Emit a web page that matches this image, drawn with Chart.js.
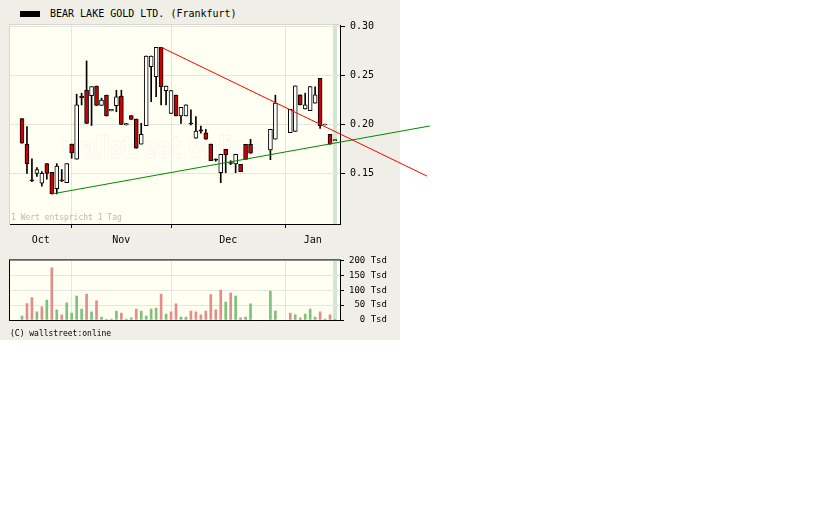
<!DOCTYPE html>
<html>
<head>
<meta charset="utf-8">
<title>BEAR LAKE GOLD LTD. (Frankfurt)</title>
<script src="https://cdn.jsdelivr.net/npm/chart.js@4.4.1/dist/chart.umd.min.js"></script>
<style>
  body { margin: 0; background: #fff; }
  #panel { position: absolute; left: 0; top: 0; width: 400px; height: 340px; background: #efefe7; }
  #key { position: absolute; left: 20px; top: 11px; width: 20px; height: 6px; background: #000; }
  #title { position: absolute; left: 50px; top: 8px; font: 10px "DejaVu Sans Mono", monospace; color: #000; white-space: pre; }
  #copy { position: absolute; left: 10px; top: 329px; font: 8px "DejaVu Sans Mono", monospace; color: #000; }
  #price { position: absolute; left: 0; top: 0; }
  #volume { position: absolute; left: 0; top: 250px; }
</style>
</head>
<body>
<div id="panel"></div>
<div id="key"></div>
<div id="title">BEAR LAKE GOLD LTD. (Frankfurt)</div>
<canvas id="price" width="440" height="250"></canvas>
<canvas id="volume" width="400" height="90"></canvas>
<div id="copy">(C) wallstreet:online</div>
<script>
// one slot per trading day, Oct -> Jan (null = no quote)
const opens  = [0.206,0.180,0.1435,0.150,0.140,0.160,0.151,0.1345,0.1435,0.1405,
                0.180,0.1645,0.229,0.235,0.2295,0.2393,0.2195,0.230,0.2140,0.2192,
                0.229,0.1995,0.209,0.2056,0.180,0.1988,0.259,0.2489,0.279,0.2346,
                0.2114,0.230,0.2087,0.2087,0.2015,0.1859,0.1945,0.1916,0.180,0.1645,
                0.1507,0.1747,0.1612,0.1596,0.1593,0.1798,0.1798,null,null,null,
                0.174,0.185,null,null,0.1916,0.193,0.2302,0.2158,0.2141,0.2217,
                0.2472,0.1995,0.190,0.1835];
const highs  = [0.206,0.198,0.165,0.156,0.152,0.160,0.151,0.160,0.154,0.160,
                0.180,0.231,0.232,0.265,0.2387,0.2393,0.227,0.230,0.2155,0.235,
                0.235,0.201,0.209,0.2056,0.2012,0.270,0.270,0.279,0.279,0.2393,
                0.2346,0.230,0.2176,0.220,0.215,0.208,0.1983,0.195,0.180,0.165,
                0.1696,0.1747,0.163,0.1696,0.1593,0.1798,0.1849,null,null,null,
                0.195,0.230,null,null,0.2155,0.2394,0.2302,0.232,0.2387,0.2384,
                0.2472,0.2005,0.190,0.1845];
const lows   = [0.181,0.150,0.1415,0.147,0.137,0.144,0.129,0.129,0.1415,0.1405,
                0.1655,0.1645,0.220,0.201,0.199,0.2195,0.2195,0.2087,0.2140,0.213,
                0.200,0.1995,0.2053,0.1757,0.180,0.1988,0.2233,0.2284,0.220,0.220,
                0.2114,0.2087,0.2012,0.2087,0.1995,0.1859,0.1911,0.1849,0.163,0.1625,
                0.1405,0.1507,0.159,0.1507,0.1517,0.1644,0.1706,null,null,null,
                0.164,0.185,null,null,0.1916,0.193,0.220,0.2158,0.2141,0.2217,
                0.196,0.1995,0.180,0.1835];
const closes = [0.181,0.160,0.1425,0.154,0.150,0.150,0.129,0.1575,0.1425,0.160,
                0.171,0.220,0.2275,0.201,0.2387,0.2195,0.225,0.2087,0.2155,0.2284,
                0.200,0.201,0.2053,0.1757,0.190,0.270,0.270,0.279,0.2387,0.2393,
                0.2346,0.2087,0.2176,0.220,0.2005,0.1933,0.1933,0.1849,0.163,0.1635,
                0.1696,0.1688,0.1602,0.1696,0.1517,0.1644,0.1706,null,null,null,
                0.195,0.222,null,null,0.2155,0.2394,0.220,0.220,0.2387,0.2302,
                0.1988,0.2005,0.180,0.1845];
// volume in Tsd, 1 = green bar, 0 = red bar
const volumes = [13,55,75,27,44,67,175,34,17,58,
                 23,80,37,87,27,64,10,2,3,30,
                 23,3,7,37,30,13,37,40,87,20,
                 27,54,10,10,30,27,17,30,85,34,
                 100,60,90,80,7,10,54,null,null,null,
                 97,30,null,null,23,17,7,20,37,10,
                 27,3,17,1];
const volUp   = [1,0,0,1,0,1,0,1,0,1,
                 1,1,1,0,1,0,1,0,1,1,
                 0,1,1,0,1,1,1,1,0,1,
                 0,0,1,1,0,0,0,0,0,0,
                 0,1,0,1,0,1,1,0,0,0,
                 1,1,0,0,0,1,0,1,1,1,
                 0,1,0,1];
const months = ['Oct', 'Nov', 'Dec', 'Jan'];
const monthStart = [10, 30, 53];          // slot of the 1st day of Nov, Dec, Jan
const priceTicks = [0.15, 0.20, 0.25, 0.30];
const volTicks = [0, 50, 100, 150, 200];
const redTrend = [[28, 0.279], [81.5, 0.1473]];
const greenTrend = [[6, 0.129], [82.1, 0.1985]];

const xMin = -2.415, xMax = 64.006;
const lastIdx = opens.length - 1;
const mono = 'DejaVu Sans Mono';

const bounds = [xMin, ...monthStart, xMax];
const monthMid = months.map((m, k) => (bounds[k] + bounds[k + 1]) / 2);

const wickData = [], bodyData = [], bodyColors = [];
opens.forEach((o, i) => {
  if (o === null) return;
  wickData.push({ x: i, y: [lows[i], highs[i]] });
  bodyData.push({ x: i, y: [o, closes[i]] });
  bodyColors.push(closes[i] < o ? '#cc0000' : '#ffffff');
});
const volData = [], volColors = [];
volumes.forEach((v, i) => {
  if (v === null) return;
  volData.push({ x: i, y: v });
  volColors.push(volUp[i] ? '#7cc27c' : '#e38c8c');
});

const backdrop = {
  id: 'backdrop',
  beforeDraw(chart) {
    const { ctx, chartArea: a, scales: { x } } = chart;
    ctx.save();
    ctx.fillStyle = '#fffff2';
    ctx.fillRect(a.left, a.top, a.right - a.left, a.bottom - a.top);
    const cx = x.getPixelForValue(lastIdx);
    ctx.fillStyle = '#cfe8cf';
    ctx.fillRect(cx - 2, a.top, 4, a.bottom - a.top);
    ctx.restore();
  }
};

const priceExtras = {
  id: 'priceExtras',
  beforeDatasetsDraw(chart) {
    // faint "wallstreet online" watermark
    const { ctx } = chart;
    ctx.save();
    ctx.translate(62, 158);
    ctx.scale(0.7, 1);
    ctx.font = 'bold 30px "DejaVu Sans"';
    ctx.lineWidth = 1;
    ctx.fillStyle = 'rgba(255,255,255,0.45)';
    ctx.strokeStyle = 'rgba(0,0,0,0.045)';
    ctx.fillText('wallstreet online', 0, 0);
    ctx.strokeText('wallstreet online', 0, 0);
    ctx.restore();
  },
  afterDraw(chart) {
    const { ctx, chartArea: a } = chart;
    ctx.save();
    ctx.strokeStyle = '#d6d6cc';
    ctx.beginPath();
    ctx.moveTo(a.left - 0.5, a.bottom);
    ctx.lineTo(a.left - 0.5, a.top - 0.5);
    ctx.lineTo(a.right, a.top - 0.5);
    ctx.stroke();
    ctx.font = '8px "' + mono + '"';
    ctx.fillStyle = '#b8b8b8';
    ctx.textBaseline = 'middle';
    ctx.fillText('1 Wert entspricht 1 Tag', a.left + 1, a.bottom - 6);
    ctx.restore();
  }
};

const volFrame = {
  id: 'volFrame',
  afterDraw(chart) {
    const { ctx, chartArea: a } = chart;
    ctx.save();
    ctx.strokeStyle = '#000';
    ctx.lineWidth = 1;
    ctx.strokeRect(a.left - 0.5, a.top - 0.5, a.right - a.left + 1, a.bottom - a.top + 1);
    ctx.restore();
  }
};

const isStart = v => monthStart.includes(v);

new Chart(document.getElementById('price'), {
  type: 'bar',
  data: {
    datasets: [
      { type: 'bar', data: wickData, backgroundColor: '#000', barThickness: 1, grouped: false, order: 3 },
      { type: 'bar', data: bodyData, backgroundColor: bodyColors, borderColor: '#000', borderWidth: 1,
        borderSkipped: false, barThickness: 4, grouped: false, order: 2 },
      { type: 'line', data: redTrend.map(p => ({ x: p[0], y: p[1] })), borderColor: '#ff0000',
        borderWidth: 1, pointRadius: 0, clip: false, order: 1 },
      { type: 'line', data: greenTrend.map(p => ({ x: p[0], y: p[1] })), borderColor: '#008a00',
        borderWidth: 1, pointRadius: 0, clip: false, order: 1 }
    ]
  },
  options: {
    responsive: false,
    animation: false,
    devicePixelRatio: 1,
    layout: { padding: { left: 10, top: 25, right: 0, bottom: 0 } },
    plugins: { legend: { display: false }, tooltip: { enabled: false } },
    scales: {
      x: {
        type: 'linear', min: xMin, max: xMax, offset: false,
        afterFit(s) { s.height = 26; },
        afterBuildTicks(s) {
          s.ticks = [...monthStart, ...monthMid].sort((a, b) => a - b).map(v => ({ value: v }));
        },
        grid: {
          offset: false, tickLength: 4,
          color: c => (c.tick && isStart(c.tick.value)) ? '#e6e6e0' : 'rgba(0,0,0,0)',
          tickColor: c => (c.tick && isStart(c.tick.value)) ? '#000' : 'rgba(0,0,0,0)'
        },
        border: { color: '#000' },
        ticks: {
          autoSkip: false, maxRotation: 0, padding: 6, color: '#000',
          font: { family: mono, size: 10 },
          callback: v => { const k = monthMid.indexOf(v); return k >= 0 ? months[k] : ''; }
        }
      },
      y: {
        position: 'right', min: 0.0983, max: 0.3017,
        afterFit(s) { s.width = 100; },
        afterBuildTicks(s) { s.ticks = priceTicks.map(v => ({ value: v })); },
        grid: { color: '#e6e6e0', tickColor: '#000', tickLength: 5 },
        border: { color: '#000' },
        ticks: { padding: 5, color: '#000', font: { family: mono, size: 10 }, callback: v => v.toFixed(2) }
      }
    }
  },
  plugins: [backdrop, priceExtras]
});

new Chart(document.getElementById('volume'), {
  type: 'bar',
  data: {
    datasets: [
      { data: volData, backgroundColor: volColors, barThickness: 2, grouped: false }
    ]
  },
  options: {
    responsive: false,
    animation: false,
    devicePixelRatio: 1,
    layout: { padding: { left: 10, top: 9, right: 0, bottom: 0 } },
    plugins: { legend: { display: false }, tooltip: { enabled: false } },
    scales: {
      x: {
        type: 'linear', min: xMin, max: xMax, offset: false,
        afterFit(s) { s.height = 20; },
        afterBuildTicks(s) { s.ticks = monthStart.map(v => ({ value: v })); },
        grid: { offset: false, drawTicks: false, color: '#e6e6e0' },
        border: { color: '#000' },
        ticks: { display: false }
      },
      y: {
        position: 'right', min: 0, max: 200,
        afterFit(s) { s.width = 60; },
        afterBuildTicks(s) { s.ticks = volTicks.map(v => ({ value: v })); },
        grid: { color: '#e6e6e0', tickColor: '#000', tickLength: 4 },
        border: { color: '#000' },
        ticks: { padding: 5, color: '#000', font: { family: mono, size: 9 },
                 callback: v => String(v).padStart(3, ' ') + ' Tsd' }
      }
    }
  },
  plugins: [backdrop, volFrame]
});
</script>
</body>
</html>
